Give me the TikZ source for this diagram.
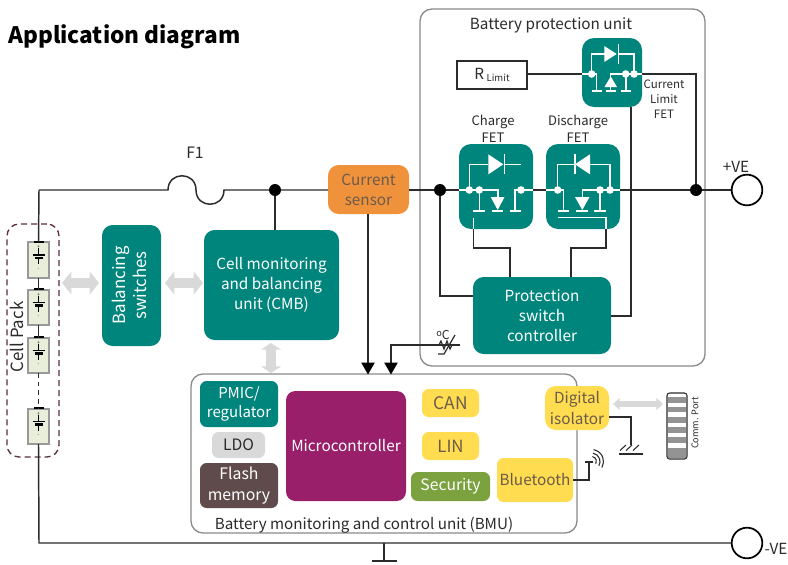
\documentclass[tikz,border=0pt]{standalone}
\usepackage{fontspec}
\setmainfont{Noto Sans CJK SC}
\usetikzlibrary{arrows.meta,calc}
\pgfdeclarelayer{front}
\pgfsetlayers{main,front}
\definecolor{tealc}{HTML}{00857C}
\definecolor{orangec}{HTML}{F0923B}
\definecolor{yellowc}{HTML}{FFDC50}
\definecolor{greenc}{HTML}{7BA23F}
\definecolor{magentac}{HTML}{9A1F6A}
\definecolor{flashc}{HTML}{5F4B4B}
\definecolor{ldoc}{HTML}{D9D9D9}
\definecolor{inkc}{HTML}{2B2B2B}
\definecolor{yinkc}{HTML}{6B5B4B}
\definecolor{packc}{HTML}{5B2C40}
\definecolor{edgec}{HTML}{8A8A8A}
\definecolor{cellc}{HTML}{E9EEDB}
\definecolor{arrowc}{HTML}{D9D9D9}
\newcommand\fpx[1]{\pgfmathsetmacro\fpxa{#1*0.75*1.02}\pgfmathsetmacro\fpxb{#1*0.75*1.34}\fontsize{\fpxa pt}{\fpxb pt}\selectfont}
\newcommand\bxn[7]{%
  \pgfmathsetmacro\bxw{(#5-#3)*0.75}\pgfmathsetmacro\bxh{(#6-#4)*0.75}%
  \node[#1,minimum width=\bxw pt,minimum height=\bxh pt] (#2) at ({(#3+#5)/2},{(#4+#6)/2}) {#7};}
\tikzset{
  x=0.75pt,y=-0.75pt,
  base/.style={inner sep=0pt,outer sep=0pt,align=center,text=inkc,font=\fpx{15}},
  frame/.style={base,draw=edgec,line width=1pt,rounded corners=9pt,fill=white},
  tealbox/.style={base,fill=tealc,text=white,rounded corners=8pt},
  orangebox/.style={base,fill=orangec,text=yinkc,rounded corners=8pt},
  yellowbox/.style={base,fill=yellowc,text=yinkc,rounded corners=5pt},
  greenbox/.style={base,fill=greenc,text=white,rounded corners=5pt},
  magbox/.style={base,fill=magentac,text=white,rounded corners=7pt},
  flashbox/.style={base,fill=flashc,text=white,rounded corners=5pt},
  ldobox/.style={base,fill=ldoc,text=inkc,rounded corners=5pt},
  cellbox/.style={base,fill=cellc,draw=gray!80,line width=1pt},
  rbox/.style={base,draw=inkc,line width=1pt,fill=white},
  lbl/.style={inner sep=0pt,outer sep=0pt,align=center,text=inkc},
  wire/.style={draw=inkc,line width=1.1pt},
  wh/.style={draw=white,line width=1.1pt},
  dot/.style={circle,fill=black,inner sep=0pt,minimum size=9pt},
  term/.style={circle,draw=black,line width=1.3pt,fill=white,inner sep=0pt,minimum size=23pt},
  sense/.style={wire,-{Triangle[length=9pt,width=10pt,color=black]}},
  fat/.style={draw=arrowc,line width=7.5pt,{Triangle[length=7pt,width=17pt]}-{Triangle[length=7pt,width=17pt]}},
  fatv/.style={draw=arrowc,line width=8pt,{Triangle[length=5pt,width=15pt]}-{Triangle[length=5pt,width=15pt]}},
  fatsmall/.style={draw=arrowc,line width=5pt,{Triangle[length=5pt,width=9pt]}-{Triangle[length=5pt,width=9pt]}},
  cellsym/.pic={
    \fill[black] (-5,-19.5) rectangle (5,-17.5);
    \draw[black,line width=.8pt] (0,-12) -- (0,-5);
    \draw[black,line width=.8pt] (-6,-5) -- (6,-5);
    \draw[black,line width=1.8pt] (-4,-2) -- (4,-2);
    \draw[black,line width=.8pt] (0,-2) -- (0,4);
    \node[lbl,font=\fpx{5}] at (0,-13) {+};
    \node[lbl,font=\fpx{5}] at (0,9.5) {-};
  },
  dotw/.pic={\fill[white] (0,0) circle[radius=3.8];}
}
\begin{document}
\begin{tikzpicture}
\useasboundingbox (0,0) rectangle (788,564);
\node[anchor=west,inner sep=0pt,font=\fpx{22.2}\bfseries] (title) at (8,37) {Application diagram};
% containers
\bxn{frame}{bpu}{420}{9}{705}{366}{}
\bxn{frame}{bmu}{191}{374}{577}{533}{}
\bxn{base,draw=packc,line width=1pt,dashed,dash pattern=on 4.5pt off 3pt,rounded corners=9pt}{pack}{7}{224}{59}{457}{}
\node[lbl,font=\fpx{15}] (bputitle) at (551,25) {Battery protection unit};
\node[lbl,font=\fpx{14.9}] (bmutitle) at (364,525) {Battery monitoring and control unit (BMU)};
\node[lbl,font=\fpx{16.5},rotate=90] (packtitle) at (17,337) {Cell Pack};
% blocks
\bxn{tealbox,font=\fpx{16.5}}{bal}{102}{225}{161}{346}{\rotatebox{90}{\begin{tabular}{@{}c@{}}Balancing\\[-1pt]switches\end{tabular}}}
\bxn{tealbox}{cmb}{204}{230}{339}{340}{Cell monitoring\\and balancing\\unit (CMB)}
\bxn{orangebox}{sensor}{328}{165}{409}{214}{Current\\sensor}
\bxn{tealbox}{psc}{473}{277}{611}{354}{Protection\\switch\\controller}
\bxn{tealbox,rounded corners=9pt}{cfet}{459}{144}{533}{229}{}
\bxn{tealbox,rounded corners=9pt}{dfet}{546}{144}{620}{229}{}
\bxn{tealbox,rounded corners=9pt}{lfet}{582}{38}{642}{107}{}
\bxn{rbox}{rlim}{457}{61}{527}{89}{R\,\raisebox{-2pt}{\fpx{9.4}Limit}}
\node[lbl,font=\fpx{12.8}] (cfetl) at (493,129) {Charge\\FET};
\node[lbl,font=\fpx{12.8}] (dfetl) at (578,129) {Discharge\\FET};
\node[lbl,font=\fpx{11.3}] (lfetl) at (664,99) {Current\\Limit\\FET};
\node[lbl,font=\fpx{15.4}] (f1) at (195,153) {F1};
\node[lbl,font=\fpx{15}] (pve) at (736,167) {+VE};
\node[lbl,font=\fpx{15}] (nve) at (776,549) {-VE};
\node[term] (pterm) at (747,190) {};
\node[term] (nterm) at (747,543) {};
% BMU contents
\bxn{tealbox,rounded corners=5pt,font=\fpx{14.7}}{pmic}{200}{381}{278}{427}{PMIC/\\regulator}
\bxn{ldobox,font=\fpx{15.4}}{ldo}{212}{432}{265}{458}{LDO}
\bxn{flashbox,font=\fpx{15.5}}{flash}{200}{463}{278}{508}{Flash\\memory}
\bxn{magbox}{mcu}{286}{391}{406}{501}{Microcontroller}
\bxn{yellowbox,font=\fpx{17}}{can}{422}{389}{479}{417}{CAN}
\bxn{yellowbox,font=\fpx{16.5}}{lin}{422}{432}{479}{460}{LIN}
\bxn{greenbox,font=\fpx{15.4}}{sec}{411}{472}{490}{501}{Security}
\bxn{yellowbox}{bt}{497}{458}{573}{502}{Bluetooth}
\bxn{yellowbox,rounded corners=8pt}{iso}{545}{386}{609}{430}{Digital\\isolator}
% cells
\bxn{cellbox}{cellA}{28}{242}{49}{278}{}
\bxn{cellbox}{cellB}{28}{290}{49}{325}{}
\bxn{cellbox}{cellC}{28}{338}{49}{373}{}
\bxn{cellbox}{cellD}{28}{409}{49}{444}{}
\pic at (cellA.center) {cellsym};
\pic at (cellB.center) {cellsym};
\pic at (cellC.center) {cellsym};
\pic at (cellD.center) {cellsym};
% comm port
\bxn{base,draw=inkc,line width=.8pt,fill=white,rounded corners=2pt}{port}{667}{393}{687}{459}{}
\foreach \a/\b in {397/403,407/412,417/423,427/433,437/443,448/458}
  \fill[gray!85] (668,\a) rectangle (686,\b);
\node[lbl,font=\fpx{9},rotate=90] (portl) at (695,423) {Comm. Port};
% coordinates
\coordinate (jtop) at (39,190);
\coordinate (fa) at (168,190);
\coordinate (fb) at (224,190);
\begin{pgfonlayer}{front}
\node[dot] (j1) at (275,190) {};
\node[dot] (j2) at (440,190) {};
\node[dot] (j3) at (696,190) {};
\end{pgfonlayer}
\coordinate (cgate) at (473.3,229);
\coordinate (dgate) at (606,229);
\coordinate (lout) at (631,107);
\coordinate (tstart) at (391,345);
\coordinate (tend) at (460,345);
\coordinate (gtop) at (631,445);
\coordinate (gbar) at (384,561);
\coordinate (ant) at (589,462);
% main wires
\draw[wire] (jtop) -- (fa) .. controls (168,171) and (196,171) .. (196,190)
  .. controls (196,209) and (224,209) .. (fb) -- (sensor.west |- fb);
\draw[wire] (jtop) -- (cellA.north);
\draw[wire] (cellA.south) -- (cellB.north);
\draw[wire] (cellB.south) -- (cellC.north);
\draw[wire,dash pattern=on 3.5pt off 3pt] (cellC.south) -- (cellD.north);
\draw[wire] (cellD.south) -- (39,543) -- (nterm.west);
\draw[wire] (384,543) -- (gbar);
\draw[wire] (372,561) -- (397,561);
\draw[wire] (j1.center) -- (cmb.north -| j1);
\draw[wire] (sensor.east |- j2) -- (cfet.west |- j2);
\draw[wire] (533,190) -- (546,190);
\draw[wire] (620,190) -- (pterm.west);
\draw[wire] (j2.center) -- (440,296) -- (psc.west |- 0,296);
\draw[wire] (rlim.east |- 0,74) -- (lfet.west |- 0,74);
\draw[wire] (lfet.east |- 0,74) -- (696,74) -- (j3.center);
\draw[wire] (lout) -- (631,316) -- (psc.east |- 0,316);
\draw[wire] (cgate) -- (473.3,248) -- (510,248) -- (510,277);
\draw[wire] (dgate) -- (606,248) -- (571,248) -- (571,277);
% sense arrows
\draw[sense] (sensor.south -| 368,0) -- (368,374.5);
\draw[sense] (tend) -- (tstart) -- (391,374.5);
% thermistor
\draw[wire,line width=.9pt] (438,354) -- (444,354) -- (455,335);
\draw[wire,line width=.9pt] (439,345) -- (441,341) -- (444,349) -- (447,341) -- (450,349) -- (452,345);
\node[lbl,font=\fpx{12}] (degc) at (443,335) {\raisebox{2pt}{\fpx{9}o}C};
% iso ground
\draw[wire] (iso.east |- 0,417) -- (631,417) -- (gtop);
\draw[wire] (619,454) -- (643,454);
\foreach \p in {620,626,633} \draw[wire,line width=.8pt] (\p,450.5) -- (\p+6,445);
% bluetooth antenna
\draw[wire] (bt.east |- 0,480) -- (589,480) -- (ant);
\draw[wire] (585,462) -- (593,462);
\foreach \r in {5,8.5,12} \draw[wire,line width=.8pt] ($(591.5,461.5)+(-80:\r)$) arc[start angle=-80,end angle=30,radius=\r];
% fat arrows
\draw[fat] (62,283) -- (99,283);
\draw[fat] (165,283) -- (203,283);
\draw[fatv] (271,343) -- (271,373);
\draw[fatsmall] (613,404) -- (663,404);
% Charge FET
\begin{scope}
\draw[wh] (459,190) -- (498,190) -- (498,197);
\draw[wh] (469.3,190) -- (469.3,164.3) -- (488,164.3);
\fill[white] (488.3,154.3) -- (488.3,174.3) -- (503.3,164.3) -- cycle;
\draw[wh] (504.3,154.3) -- (504.3,174.3);
\draw[wh] (504.3,164.3) -- (521,164.3);
\fill[white] (490.7,197) -- (504.5,197) -- (497.7,210) -- cycle;
\draw[wh] (491.7,211) -- (503.3,211);
\draw[wh] (479.3,190) -- (479.3,211);
\draw[wh] (473.3,211) -- (485,211);
\draw[wh] (533,190) -- (515,190) -- (515,211);
\draw[wh] (510,211) -- (520.7,211);
\draw[wh] (473.3,218) -- (473.3,229);
\pic at (469.3,190) {dotw}; \pic at (479.3,190) {dotw}; \pic at (521,190) {dotw};
\end{scope}
% Discharge FET
\begin{scope}
\draw[wh] (546,190) -- (563.3,190) -- (563.3,211);
\draw[wh] (558,211) -- (569.3,211);
\draw[wh] (557.7,190) -- (557.7,164.3) -- (576,164.3);
\fill[white] (575,164.3) -- (590,154.3) -- (590,174.3) -- cycle;
\draw[wh] (575,154.3) -- (575,174.3);
\draw[wh] (590,164.3) -- (610,164.3) -- (610,190);
\draw[wh] (620,190) -- (582.3,190) -- (582.3,200);
\fill[white] (575,197) -- (589.5,197) -- (582.3,210) -- cycle;
\draw[wh] (576,211) -- (588.3,211);
\draw[wh] (600,190) -- (600,211);
\draw[wh] (594.3,211) -- (605.7,211);
\draw[wh] (558.3,217.3) -- (606,217.3) -- (606,229);
\pic at (557.7,190) {dotw}; \pic at (600,190) {dotw}; \pic at (610,190) {dotw};
\end{scope}
% Current limit FET
\begin{scope}
\draw[wh] (582,74) -- (596.7,74) -- (596.7,91);
\draw[wh] (591.7,91) -- (601.7,91);
\draw[wh] (591.7,74) -- (591.7,54) -- (605,54);
\fill[white] (604.3,46) -- (604.3,62) -- (616.7,54) -- cycle;
\draw[wh] (618.3,44) -- (618.3,64);
\draw[wh] (618.3,54) -- (634,54) -- (634,74) -- (642,74);
\draw[wh] (634,74) -- (610.7,74) -- (610.7,91);
\fill[white] (610.7,76.5) -- (604.5,87) -- (617,87) -- cycle;
\draw[wh] (605.5,91) -- (616,91);
\draw[wh] (626,74) -- (626,91);
\draw[wh] (621.3,91) -- (630.7,91);
\pic at (591.7,74) {dotw}; \pic at (625.7,74) {dotw}; \pic at (634,74) {dotw};
\end{scope}
\end{tikzpicture}
\end{document}
